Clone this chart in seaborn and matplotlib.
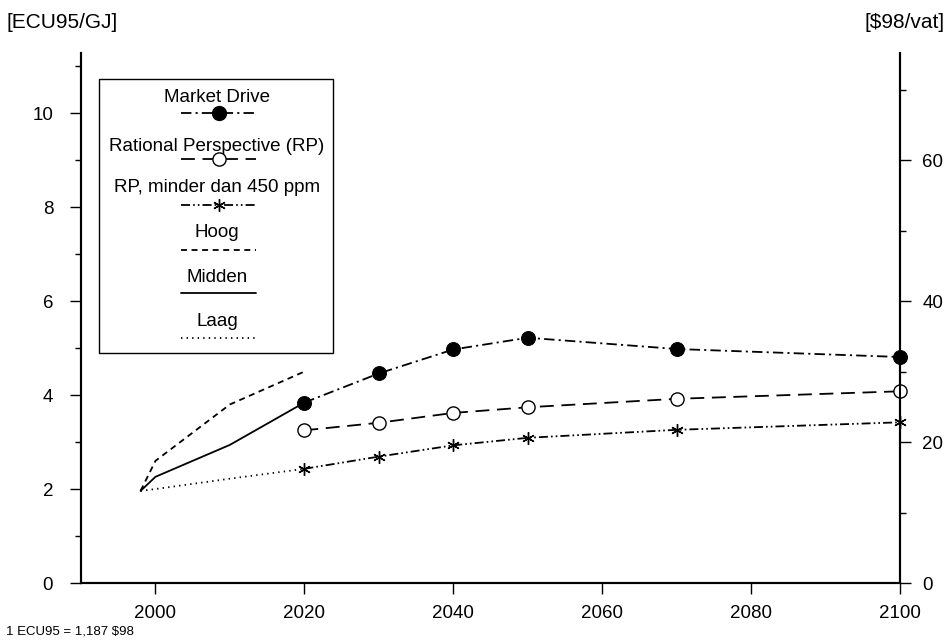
import numpy as np
import pandas as pd
import seaborn as sns
import matplotlib.pyplot as plt
from matplotlib.patches import Rectangle

# waarden [ECU95/GJ]
jaren_scen = [2020, 2030, 2040, 2050, 2070, 2100]
market_drive = [3.84, 4.46, 4.97, 5.22, 4.98, 4.81]
rational_persp = [3.25, 3.41, 3.62, 3.74, 3.92, 4.08]
rp_450 = [2.43, 2.69, 2.93, 3.09, 3.26, 3.42]

jaren_hist = [1998, 2000, 2010, 2020]
hoog = [1.96, 2.6, 3.8, 4.5]
midden = [1.96, 2.26, 2.94, 3.84]
laag = [1.96, 2.0, 2.22, 2.43]

# 1 GJ-prijs -> $98/vat
factor = 6.67

sns.set_theme(style="white")
plt.rcParams['font.family'] = ['Liberation Sans', 'DejaVu Sans']
plt.rcParams['lines.scale_dashes'] = False
plt.rcParams['text.color'] = 'black'
plt.rcParams['xtick.color'] = 'black'
plt.rcParams['ytick.color'] = 'black'
plt.rcParams['axes.labelcolor'] = 'black'

fig = plt.figure(figsize=(9.51, 6.44), dpi=100)
ax = fig.add_axes([81 / 951, 61 / 644, 819 / 951, 530 / 644])

stijlen = {
    'md': (0, (7.5, 3, 1.5, 3)),
    'rp': (0, (10, 5.5)),
    'rp450': (0, (6.5, 2.2, 1.2, 2.2, 1.2, 2.2)),
    'hoog': (0, (4.3, 3.3)),
    'midden': '-',
    'laag': (0, (1, 3)),
}
lw = 1.3

df_scen = pd.DataFrame({'jaar': jaren_scen, 'md': market_drive, 'rp': rational_persp, 'rp450': rp_450})
df_hist = pd.DataFrame({'jaar': jaren_hist, 'hoog': hoog, 'midden': midden, 'laag': laag})

sns.lineplot(data=df_hist, x='jaar', y='hoog', ax=ax, color='black', lw=lw, linestyle=stijlen['hoog'])
sns.lineplot(data=df_hist, x='jaar', y='midden', ax=ax, color='black', lw=lw, linestyle=stijlen['midden'])
sns.lineplot(data=df_hist, x='jaar', y='laag', ax=ax, color='black', lw=lw, linestyle=stijlen['laag'])

sns.lineplot(data=df_scen, x='jaar', y='md', ax=ax, color='black', lw=lw, linestyle=stijlen['md'],
             marker='o', markersize=10, markerfacecolor='black', markeredgecolor='black', clip_on=False, zorder=5)
sns.lineplot(data=df_scen, x='jaar', y='rp', ax=ax, color='black', lw=lw, linestyle=stijlen['rp'],
             marker='o', markersize=9.5, markerfacecolor='white', markeredgecolor='black', markeredgewidth=1,
             clip_on=False, zorder=5)
sns.lineplot(data=df_scen, x='jaar', y='rp450', ax=ax, color='black', lw=lw, linestyle=stijlen['rp450'],
             marker=(6, 2, 0), markersize=9, markeredgecolor='black', markeredgewidth=1, clip_on=False, zorder=5)

ax.set_xlim(1990, 2100)
ax.set_ylim(0, 11.28)
ax.set_xticks([2000, 2020, 2040, 2060, 2080, 2100])
ax.set_yticks([0, 2, 4, 6, 8, 10])
ax.set_yticks(np.arange(1, 12, 2), minor=True)
ax.set_xlabel('')
ax.set_ylabel('')

ax2 = ax.twinx()
ax2.set_ylim(0, 11.28 * factor)
ax2.set_yticks([0, 20, 40, 60])
ax2.set_yticks([10, 30, 50, 70], minor=True)

for a in (ax, ax2):
    for s in a.spines.values():
        s.set_linewidth(1.5)
        s.set_color('black')
    a.spines['top'].set_visible(False)
    a.tick_params(which='major', direction='out', length=8, width=1, color='black', labelsize=13.5,
                  labelcolor='black', pad=5)
    a.tick_params(which='minor', direction='out', length=4, width=1, color='black')
ax.tick_params(axis='y', left=True, which='both')
ax.tick_params(axis='x', bottom=True, pad=8)
ax.tick_params(axis='y', pad=12)
ax2.tick_params(axis='y', right=True, which='both', pad=8)

# legenda: tekst boven het lijnvoorbeeld
ax.add_patch(Rectangle((0.022, 0.434), 0.286, 0.517, transform=ax.transAxes,
                       facecolor='white', edgecolor='black', lw=1, zorder=6))
items = [
    ('Market Drive', 'md', dict(marker='o', markersize=10, markerfacecolor='black')),
    ('Rational Perspective (RP)', 'rp', dict(marker='o', markersize=9.5, markerfacecolor='white', markeredgewidth=1)),
    ('RP, minder dan 450 ppm', 'rp450', dict(marker=(6, 2, 0), markersize=9, markeredgewidth=1)),
    ('Hoog', 'hoog', {}),
    ('Midden', 'midden', {}),
    ('Laag', 'laag', {}),
]
tekst_y = [98, 147, 188, 233, 278, 322]
lijn_y = [113, 159, 205, 250, 293, 338]
xc = (217 - 81) / 819
hx0, hx1 = (181 - 81) / 819, (256 - 81) / 819
for (lab, key, mk), ty, ly in zip(items, tekst_y, lijn_y):
    ty_ax = (583 - ty) / 530
    ly_ax = (583 - ly) / 530
    ax.text(xc, ty_ax, lab, transform=ax.transAxes, ha='center', va='center', fontsize=13.5, zorder=7)
    ax.plot([hx0, hx1], [ly_ax, ly_ax], transform=ax.transAxes, color='black', lw=lw,
            linestyle=stijlen[key], zorder=7)
    if mk:
        ax.plot([(hx0 + hx1) / 2], [ly_ax], transform=ax.transAxes, color='black',
                markeredgecolor='black', linestyle='none', zorder=8, **mk)

fig.text(6 / 951, 1 - 22 / 644, '[ECU95/GJ]', ha='left', va='center', fontsize=15)
fig.text(945 / 951, 1 - 22 / 644, r'[\$98/vat]', ha='right', va='center', fontsize=15)
fig.text(6 / 951, 1 - 632 / 644, r'1 ECU95 = 1,187 \$98', ha='left', va='center', fontsize=9.5)

fig.savefig('out.png', dpi=100, facecolor='white')
